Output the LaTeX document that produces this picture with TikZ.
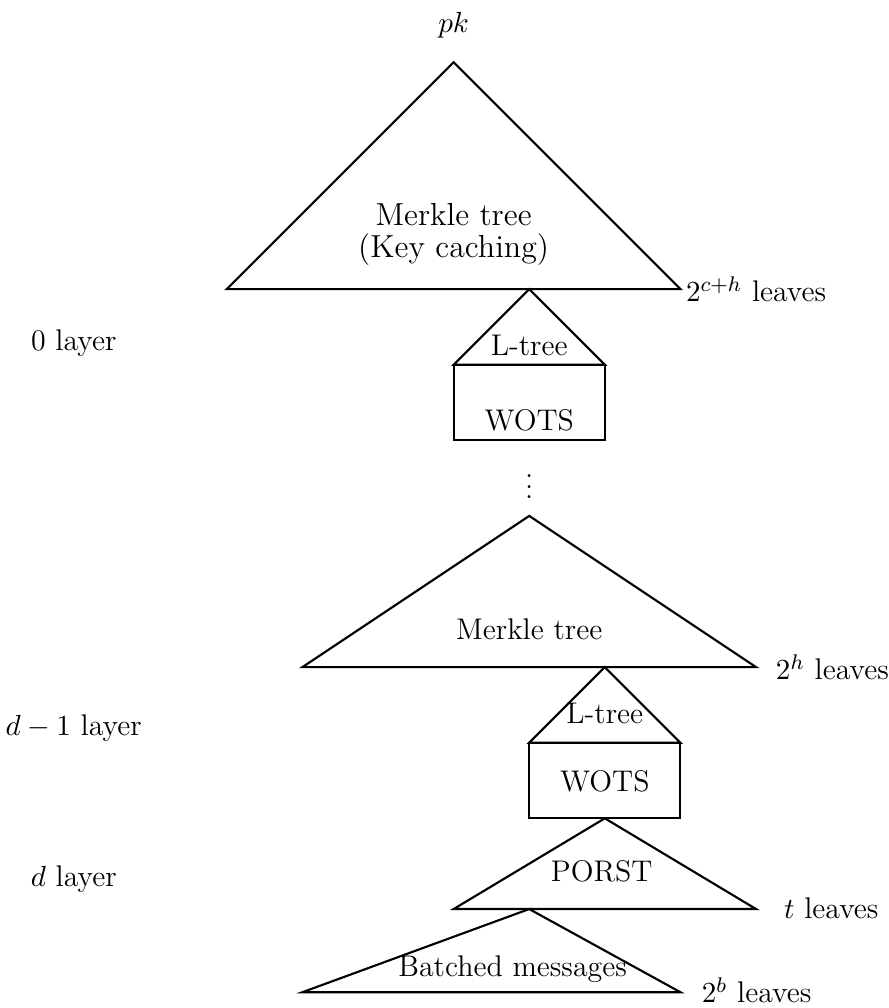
\documentclass[tikz,border=0pt]{standalone}
\usepackage{amsmath,amssymb}
\usepackage{tikz}
\tikzset{
    subtree/.style={draw=black, line join=miter},
    otsbox/.style={draw=black},
    treetext/.style={anchor=base, inner sep=0pt},
    leaves/.style={anchor=base west, inner sep=0pt},
    layer/.style={anchor=base, inner sep=0pt},
}

\begin{document}
\begin{tikzpicture}[line width=0.8pt, font=\fontsize{11.25}{12}\selectfont]
	\useasboundingbox (0,0.824) rectangle (11.746,-12.509);
	% 0 layer
	\draw[subtree] (6,0)--(3,-3)--(9,-3)--cycle;
	\node[treetext] (pk) at (6,0.397) {$pk$};
	\node[align=center, inner sep=0pt, font=\fontsize{12}{11.9}\selectfont] (keycache) at (6,-2.28) {Merkle tree\\(Key caching)};
	\node[leaves] (chleaves) at (9.06,-3.167) {$2^{c+h}$ leaves};
	\node[layer] (layer0) at (0.975,-3.806) {0 layer};
\begin{scope}[shift={(7,-3)}]
	\draw[subtree] (0,0)--(-1,-1)--(1,-1)--cycle;
	\draw[otsbox] (-1,-1) rectangle (1,-2);
	\node[treetext] (ltree0) at (0,-0.872) {L-tree};
	\node[treetext] (wots0) at (0,-1.864) {WOTS};
\end{scope}
	\node[treetext] (dots) at (7,-5.776) {$\vdots$};
	% d-1 layer
	\draw[subtree] (7,-6)--(4,-8)--(10,-8)--cycle;
	\node[treetext] (merkle) at (7,-7.641) {Merkle tree};
	\node[leaves] (hleaves) at (10.25,-8.166) {$2^h$ leaves};
	\node[layer] (layerdm) at (0.975,-8.898) {$d-1$ layer};
\begin{scope}[shift={(8,-8)}]
	\draw[subtree] (0,0)--(-1,-1)--(1,-1)--cycle;
	\draw[otsbox] (-1,-1) rectangle (1,-2);
	\node[treetext] (ltree1) at (0,-0.743) {L-tree};
	\node[treetext] (wots1) at (0,-1.648) {WOTS};
\end{scope}
	% d layer
	\draw[subtree] (8,-10)--(6,-11.2)--(10,-11.2)--cycle;
	\node[treetext] (porst) at (7.96,-10.838) {PORST};
	\node[leaves] (tleaves) at (10.357,-11.323) {$t$ leaves};
	\node[layer] (layerd) at (0.975,-10.905) {$d$ layer};
	\draw[subtree] (7,-11.2)--(4,-12.3)--(9,-12.3)--cycle;
	\node[treetext] (batch) at (6.78,-12.095) {Batched messages};
	\node[leaves] (bleaves) at (9.27,-12.44) {$2^b$ leaves};
\end{tikzpicture}
\end{document}
